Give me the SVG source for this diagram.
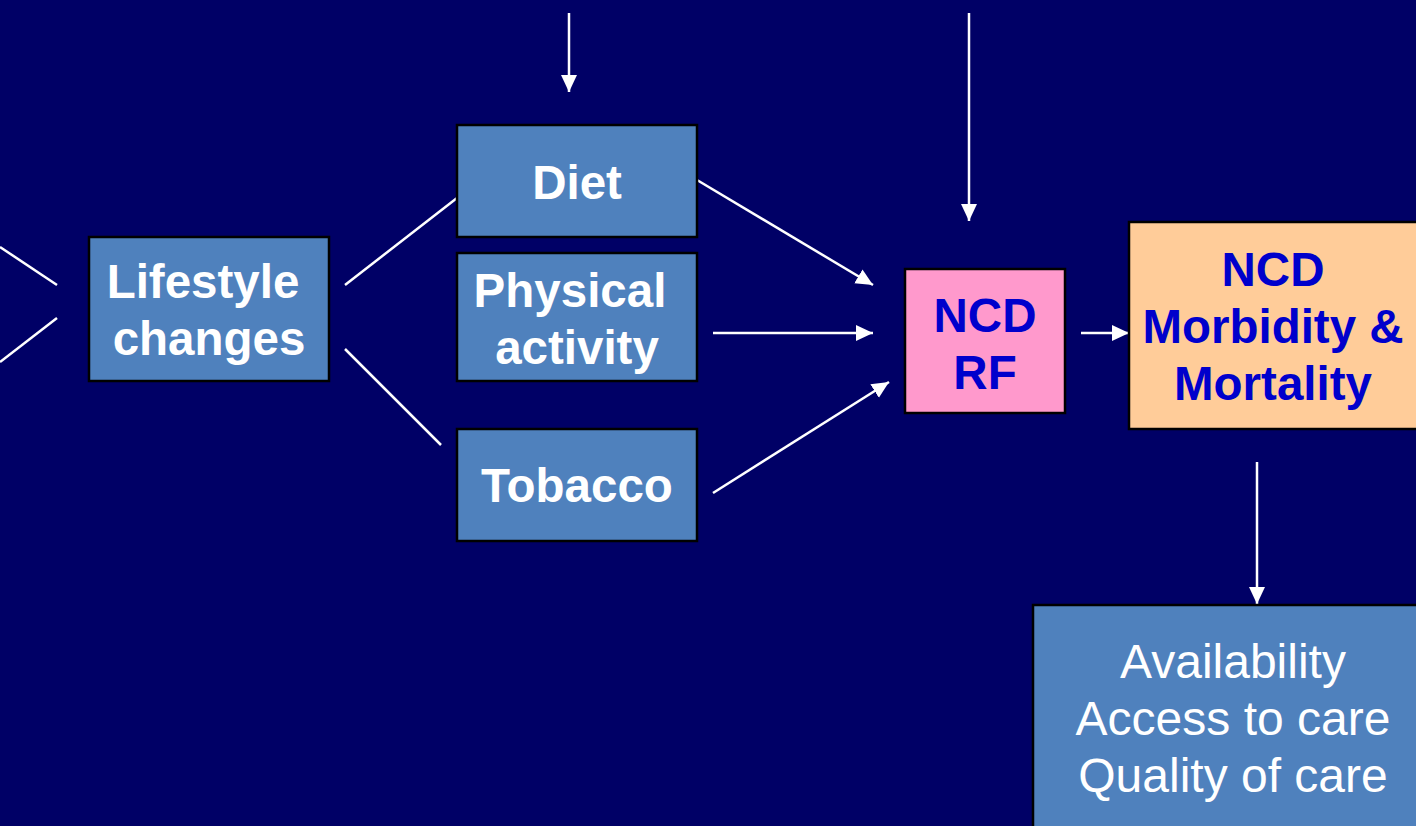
<svg xmlns="http://www.w3.org/2000/svg" width="1416" height="826" viewBox="0 0 1416 826">
<defs>
<marker id="ah" markerUnits="userSpaceOnUse" markerWidth="18" markerHeight="18" viewBox="0 0 18 18" refX="17" refY="9" orient="auto">
<path d="M0,1 L17,9 L0,17 Z" fill="#ffffff"/>
</marker>
<style>
.box{stroke:#000;stroke-width:2.5}
.blue{fill:#4f81bd}
.w{fill:#fff;font-family:"Liberation Sans",Arial,sans-serif;font-weight:bold;font-size:47.5px;text-anchor:middle}
.b{fill:#0000cc;font-family:"Liberation Sans",Arial,sans-serif;font-weight:bold;font-size:47.5px;text-anchor:middle}
.n{fill:#fff;font-family:"Liberation Sans",Arial,sans-serif;font-size:48px;text-anchor:middle}
.ln{stroke:#fff;stroke-width:2.5;fill:none}
.ar{stroke:#fff;stroke-width:2.5;fill:none;marker-end:url(#ah)}
</style>
</defs>
<rect width="1416" height="826" fill="#000066"/>
<g id="connectors">
<line class="ln" x1="0" y1="247" x2="57" y2="285"/>
<line class="ln" x1="57" y1="318" x2="0" y2="362"/>
<line class="ln" x1="345" y1="285" x2="457" y2="198"/>
<line class="ln" x1="345" y1="349" x2="441" y2="445"/>
<line class="ar" x1="697" y1="180" x2="873" y2="285"/>
<line class="ar" x1="713" y1="333" x2="873" y2="333"/>
<line class="ar" x1="713" y1="493" x2="889" y2="382"/>
<line class="ar" x1="1081" y1="333" x2="1129" y2="333"/>
<line class="ar" x1="569" y1="13" x2="569" y2="92"/>
<line class="ar" x1="969" y1="13" x2="969" y2="221"/>
<line class="ar" x1="1257" y1="462" x2="1257" y2="604"/>
</g>
<g id="lifestyle">
<rect class="box blue" x="89" y="237" width="240" height="144"/>
<text class="w" x="203" y="298">Lifestyle</text>
<text class="w" x="209" y="355">changes</text>
</g>
<g id="diet">
<rect class="box blue" x="457" y="125" width="240" height="112"/>
<text class="w" x="577" y="199">Diet</text>
</g>
<g id="physical">
<rect class="box blue" x="457" y="253" width="240" height="128"/>
<text class="w" x="570" y="307">Physical</text>
<text class="w" x="577" y="364">activity</text>
</g>
<g id="tobacco">
<rect class="box blue" x="457" y="429" width="240" height="112"/>
<text class="w" x="577" y="502">Tobacco</text>
</g>
<g id="ncdrf">
<rect class="box" fill="#ff99cc" x="905" y="269" width="160" height="144"/>
<text class="b" x="985" y="332">NCD</text>
<text class="b" x="985" y="389">RF</text>
</g>
<g id="morbidity">
<rect class="box" fill="#ffcc99" x="1129" y="222" width="300" height="207"/>
<text class="b" x="1273" y="286">NCD</text>
<text class="b" x="1273" y="343">Morbidity &amp;</text>
<text class="b" x="1273" y="400">Mortality</text>
</g>
<g id="care">
<rect class="box blue" x="1033" y="605" width="400" height="240"/>
<text class="n" x="1233" y="678">Availability</text>
<text class="n" x="1233" y="735">Access to care</text>
<text class="n" x="1233" y="792">Quality of care</text>
</g>
</svg>
